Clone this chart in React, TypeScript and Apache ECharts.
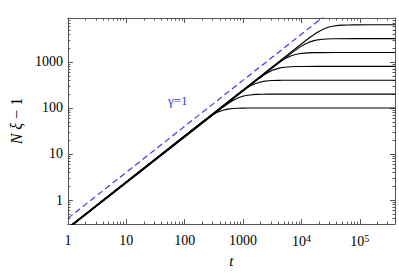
import React, { useEffect, useRef } from "react";
import * as echarts from "echarts";

// Curves: [t, N xi - 1]
const curveN100 = [[1, 0.25], [196, 49.25], [275, 66.3], [333, 76.5], [392, 84.1], [471, 90.6], [549, 94.4], [667, 97.2], [784, 98.5], [980, 99.4], [1176, 99.7], [2353, 100], [400000, 100]];
const curveN200 = [[1, 0.24], [426, 98.5], [596, 132.7], [723, 153.1], [851, 168.2], [1021, 181.3], [1191, 188.8], [1447, 194.4], [1702, 197.0], [2128, 198.7], [2553, 199.4], [5106, 200], [400000, 200]];
const curveN400 = [[1, 0.248], [800, 197.0], [1120, 265.3], [1360, 306.1], [1600, 336.4], [1920, 362.5], [2240, 377.5], [2720, 388.8], [3200, 394.0], [4000, 397.5], [4800, 398.8], [9600, 400], [400000, 400]];
const curveN800 = [[1, 0.242], [1667, 394.0], [2333, 530.6], [2833, 612.2], [3333, 672.7], [4000, 725.0], [4667, 755.0], [5667, 777.7], [6667, 788.0], [8333, 795.0], [10000, 797.5], [20000, 800], [400000, 800]];
const curveN1600 = [[1, 0.245], [3265, 788.0], [4571, 1061.3], [5551, 1224.5], [6531, 1345.4], [7837, 1450.1], [9143, 1510.1], [11102, 1555.4], [13061, 1576.0], [16327, 1589.9], [19592, 1595.0], [39184, 1600], [400000, 1600]];
const curveN3200 = [[1, 0.24], [6809, 1576], [9532, 2122.6], [11574, 2449.0], [13617, 2690.9], [16340, 2900.2], [19064, 3020.2], [23149, 3110.7], [27234, 3152], [34043, 3179.8], [40851, 3190.1], [81702, 3200], [400000, 3200]];
const curveN6400 = [[1, 0.248], [12800, 3152], [17920, 4245.1], [21760, 4897.9], [25600, 5381.8], [30720, 5800.3], [35840, 6040.3], [43520, 6221.4], [51200, 6304], [64000, 6359.7], [76800, 6380.2], [153600, 6400], [400000, 6400]];
const gammaLine = [[1, 0.4], [400000, 160000]];

const curves = [curveN100, curveN200, curveN400, curveN800, curveN1600, curveN3200, curveN6400];

const xMin = 1;
const xMax = 400000;
const yMin = 0.3;
const yMax = 9000;
const xLabelValues = [1, 10, 100, 1000, 10000, 100000];
const yLabelValues = [1, 10, 100, 1000];
const gammaLabel = "γ=1";
const xName = "t";

const SERIF = "'Liberation Serif', 'DejaVu Serif', serif";
const FRAME = "#555";

function minorValues(max: number): number[] {
  const out: number[] = [];
  for (let d = 1; d <= max; d *= 10) {
    for (let k = 2; k <= 9; k++) {
      const v = k * d;
      if (v <= max) out.push(v);
    }
  }
  return out;
}

function fmtX(v: number): string {
  if (v >= 10000) {
    const e = Math.round(Math.log10(v));
    return "10{sup|" + e + "}";
  }
  return String(v);
}

export default function App() {
  const ref = useRef<HTMLDivElement>(null);
  useEffect(() => {
    document.body.style.margin = "0";
    const chart = echarts.init(ref.current!, undefined, { renderer: "svg" });
    const xMinor = minorValues(xMax);
    const yMinor = minorValues(yMax).concat([0.4, 0.5, 0.6, 0.7, 0.8, 0.9]);

    const baseAxis = (min: number, max: number) => ({
      type: "log" as const,
      logBase: 10,
      min,
      max,
      splitLine: { show: false },
      minorTick: { show: false },
      minorSplitLine: { show: false },
    });

    const xAxes = [
      {
        ...baseAxis(xMin, xMax),
        position: "bottom",
        name: xName,
        nameLocation: "middle",
        nameGap: 28,
        nameTextStyle: { fontFamily: SERIF, fontSize: 15, fontStyle: "italic", color: "#000" },
        axisLine: { show: true, lineStyle: { color: FRAME, width: 1 } },
        axisTick: { show: true, inside: true, length: 5, customValues: xLabelValues, lineStyle: { color: FRAME } },
        axisLabel: {
          show: true,
          customValues: xLabelValues,
          margin: 9,
          fontFamily: SERIF,
          fontSize: 14,
          color: "#000",
          formatter: (v: number) => fmtX(v),
          rich: {
            sup: { fontFamily: SERIF, fontSize: 10, color: "#000", verticalAlign: "top", padding: [0, 0, 6, 0] },
          },
        },
      },
      {
        ...baseAxis(xMin, xMax),
        position: "bottom",
        axisLine: { show: false },
        axisTick: { show: true, inside: true, length: 2.5, customValues: xMinor, lineStyle: { color: FRAME } },
        axisLabel: { show: false },
      },
      {
        ...baseAxis(xMin, xMax),
        position: "top",
        axisLine: { show: true, lineStyle: { color: FRAME, width: 1 } },
        axisTick: { show: true, inside: true, length: 5, customValues: xLabelValues, lineStyle: { color: FRAME } },
        axisLabel: { show: false },
      },
      {
        ...baseAxis(xMin, xMax),
        position: "top",
        axisLine: { show: false },
        axisTick: { show: true, inside: true, length: 2.5, customValues: xMinor, lineStyle: { color: FRAME } },
        axisLabel: { show: false },
      },
    ];

    const yAxes = [
      {
        ...baseAxis(yMin, yMax),
        position: "left",
        name: "{i|N} {i|ξ} − 1",
        nameLocation: "middle",
        nameGap: 43,
        nameRotate: 90,
        nameTextStyle: {
          fontFamily: SERIF,
          fontSize: 16,
          color: "#000",
          rich: { i: { fontFamily: SERIF, fontSize: 16, fontStyle: "italic", color: "#000" } },
        },
        axisLine: { show: true, lineStyle: { color: FRAME, width: 1 } },
        axisTick: { show: true, inside: true, length: 5, customValues: yLabelValues, lineStyle: { color: FRAME } },
        axisLabel: {
          show: true,
          customValues: yLabelValues,
          margin: 5,
          fontFamily: SERIF,
          fontSize: 14,
          color: "#000",
          formatter: (v: number) => String(v),
        },
      },
      {
        ...baseAxis(yMin, yMax),
        position: "left",
        axisLine: { show: false },
        axisTick: { show: true, inside: true, length: 2.5, customValues: yMinor, lineStyle: { color: FRAME } },
        axisLabel: { show: false },
      },
      {
        ...baseAxis(yMin, yMax),
        position: "right",
        axisLine: { show: true, lineStyle: { color: FRAME, width: 1 } },
        axisTick: { show: true, inside: true, length: 5, customValues: yLabelValues, lineStyle: { color: FRAME } },
        axisLabel: { show: false },
      },
      {
        ...baseAxis(yMin, yMax),
        position: "right",
        axisLine: { show: false },
        axisTick: { show: true, inside: true, length: 2.5, customValues: yMinor, lineStyle: { color: FRAME } },
        axisLabel: { show: false },
      },
    ];

    const series: any[] = curves.map((c) => ({
      type: "line",
      data: c,
      xAxisIndex: 0,
      yAxisIndex: 0,
      showSymbol: false,
      symbol: "none",
      smooth: false,
      clip: true,
      lineStyle: { color: "#000", width: 1.1 },
      silent: true,
    }));
    series.push({
      type: "line",
      data: gammaLine,
      xAxisIndex: 0,
      yAxisIndex: 0,
      symbol: "none",
      clip: true,
      lineStyle: { color: "#3b3bef", width: 1.2, type: [6, 3.5] },
      silent: true,
    });

    chart.setOption({
      animation: false,
      backgroundColor: "#fff",
      grid: { left: 54, right: 4, top: 18, bottom: 44, containLabel: false },
      xAxis: xAxes,
      yAxis: yAxes,
      series,
      graphic: [
        {
          type: "text",
          left: 168,
          top: 94,
          style: { text: gammaLabel, fontFamily: SERIF, fontSize: 13, fill: "#3b3bef" },
        },
      ],
    });
    return () => chart.dispose();
  }, []);
  return <div ref={ref} style={{ position: "fixed", left: 0, top: 0, width: 399, height: 273 }} />;
}
